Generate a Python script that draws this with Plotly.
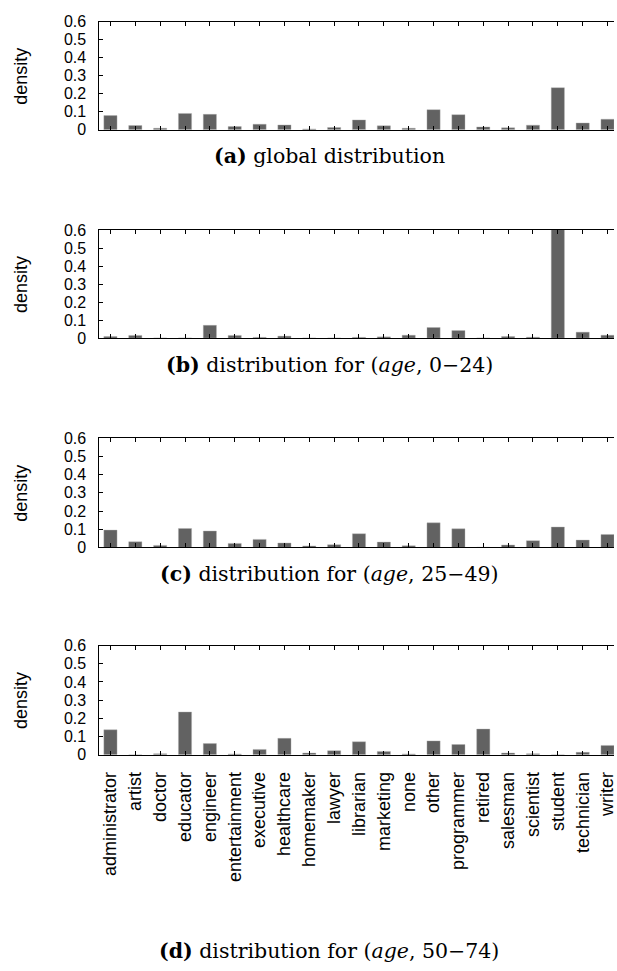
import plotly.graph_objects as go

categories = ["administrator", "artist", "doctor", "educator", "engineer", "entertainment",
              "executive", "healthcare", "homemaker", "lawyer", "librarian", "marketing",
              "none", "other", "programmer", "retired", "salesman", "scientist", "student",
              "technician", "writer"]

global_density = [0.079, 0.024, 0.009, 0.091, 0.086, 0.018, 0.031, 0.027, 0.005, 0.013, 0.055,
                  0.022, 0.009, 0.112, 0.084, 0.016, 0.011, 0.026, 0.234, 0.038, 0.059]
age_0_24 = [0.009, 0.015, 0.0, 0.0, 0.071, 0.015, 0.004, 0.011, 0.0, 0.0, 0.004,
            0.007, 0.016, 0.059, 0.042, 0.0, 0.009, 0.005, 0.62, 0.033, 0.016]
age_25_49 = [0.095, 0.031, 0.011, 0.104, 0.090, 0.022, 0.044, 0.024, 0.008, 0.015, 0.075,
             0.029, 0.009, 0.135, 0.102, 0.0, 0.013, 0.037, 0.112, 0.040, 0.071]
age_50_74 = [0.137, 0.0, 0.005, 0.235, 0.061, 0.004, 0.029, 0.090, 0.009, 0.022, 0.071,
             0.018, 0.004, 0.076, 0.056, 0.141, 0.009, 0.005, 0.0, 0.013, 0.051]

series = [global_density, age_0_24, age_25_49, age_50_74]
captions = ["<b>(a)</b> global distribution",
            "<b>(b)</b> distribution for (<i>age</i>, 0−24)",
            "<b>(c)</b> distribution for (<i>age</i>, 25−49)",
            "<b>(d)</b> distribution for (<i>age</i>, 50−74)"]
y_ticks = [0, 0.1, 0.2, 0.3, 0.4, 0.5, 0.6]
y_ticktext = ["0", "0.1", "0.2", "0.3", "0.4", "0.5", "0.6"]

W, H = 617, 971
panels_px = [(14, 124), (226, 336), (438, 549), (649, 760)]
caption_y_px = [151, 363, 576, 960]
left_px = 99
SANS = "Liberation Sans, Arial, sans-serif"

fig = go.Figure()
layout = dict(width=W, height=H, margin=dict(l=0, r=0, t=0, b=0),
              paper_bgcolor="white", plot_bgcolor="white", showlegend=False,
              font=dict(family=SANS, color="black"))
annotations = []
for i, vals in enumerate(series):
    n = i + 1
    xa = "x" if n == 1 else f"x{n}"
    ya = "y" if n == 1 else f"y{n}"
    fig.add_trace(go.Bar(x=categories, y=vals, xaxis=xa, yaxis=ya, width=0.53,
                         marker=dict(color="#626262", line=dict(color="#b0b0b0", width=0.4))))
    top, bot = panels_px[i]
    xkey = "xaxis" if n == 1 else f"xaxis{n}"
    ykey = "yaxis" if n == 1 else f"yaxis{n}"
    layout[xkey] = dict(domain=[left_px / W, 1.0], anchor=ya, range=[-0.48, 20.26],
                        type="category", categoryorder="array", categoryarray=categories,
                        showline=True, linecolor="black", linewidth=1.3, mirror="ticks",
                        ticks="inside", ticklen=4, tickwidth=1, tickcolor="black",
                        showgrid=False, zeroline=False, tickangle=-90,
                        showticklabels=(n == 4), ticklabelstandoff=9,
                        tickfont=dict(size=18, family=SANS))
    layout[ykey] = dict(domain=[1 - bot / H, 1 - top / H], anchor=xa, range=[0, 0.6],
                        tickvals=y_ticks, ticktext=y_ticktext,
                        showline=True, linecolor="black", linewidth=1.3, mirror=False,
                        ticks="inside", ticklen=4, tickwidth=1, tickcolor="black",
                        showgrid=False, zeroline=False, ticklabelstandoff=8,
                        tickfont=dict(size=16, family=SANS))
    annotations.append(dict(text="density", textangle=-90, x=21 / W, y=1 - ((top + bot) / 2) / H,
                            xref="paper", yref="paper", xanchor="center", yanchor="middle",
                            showarrow=False, font=dict(size=18, family=SANS)))
    annotations.append(dict(text=captions[i], x=331 / W, y=1 - caption_y_px[i] / H,
                            xref="paper", yref="paper", xanchor="center", yanchor="middle",
                            showarrow=False, font=dict(size=20.5, family="DejaVu Serif, serif")))
layout["annotations"] = annotations
fig.update_layout(**layout)
fig.write_html("out.html")
